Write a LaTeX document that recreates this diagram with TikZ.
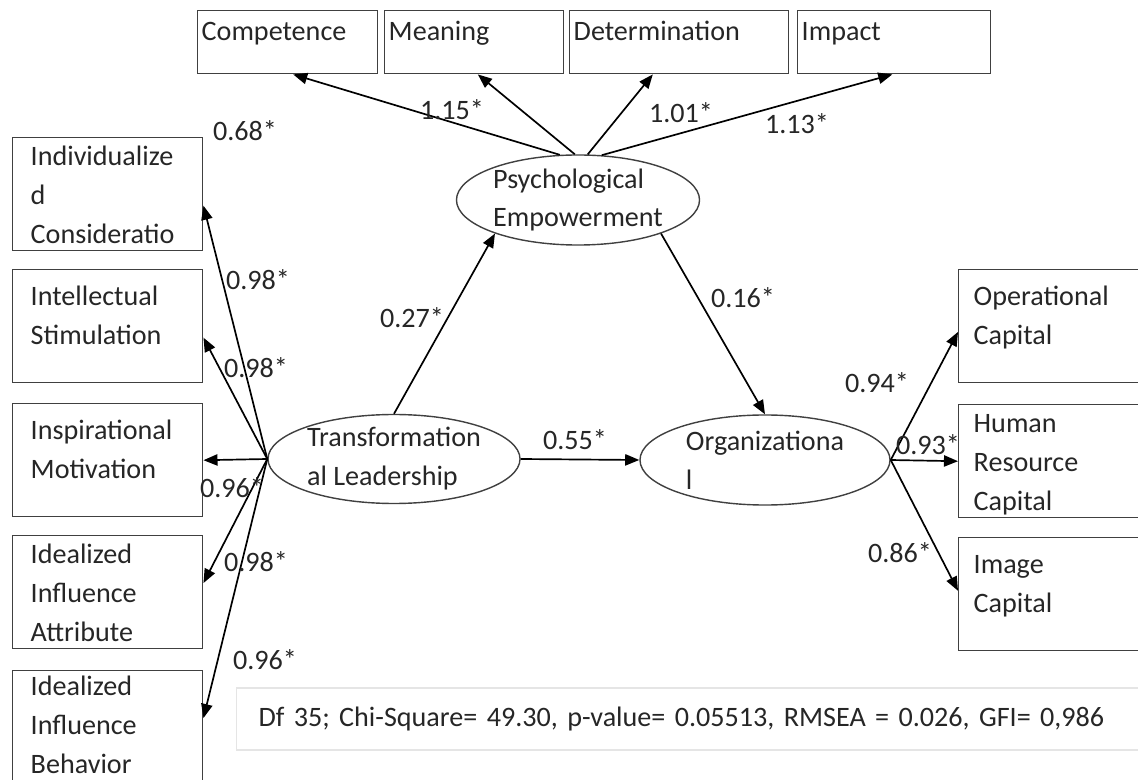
\documentclass[tikz,border=0pt]{standalone}
\usepackage{fontspec}
\setmainfont{Carlito}
\usetikzlibrary{arrows.meta,shapes.geometric,calc}
\frenchspacing

\tikzset{
  >={Triangle[length=10pt,width=8pt]},
  box/.style={draw=black!75, line width=1pt, rectangle, anchor=north west,
    align=left, inner ysep=0pt, text=black!85},
  topbox/.style={box, text height=0.75cm, text depth=0.825cm, inner xsep=0.1cm},
  threeline/.style={box, text height=0.7cm, text depth=2.125cm},
  twoline/.style={box, text height=0.9cm, text depth=1.925cm},
  leftbox/.style={inner xsep=0.45cm, text width=3.85cm},
  rightbox/.style={inner xsep=0.375cm, text width=4cm},
  latent/.style={draw=black!75, line width=1pt, ellipse, align=left, inner sep=0pt, text=black!85},
  coef/.style={inner sep=0pt, text=black!85},
  link/.style={->, black, line width=1.2pt},
}

\begin{document}
\begin{tikzpicture}[x=0.025cm, y=-0.025cm, font=\fontsize{20}{27.7}\selectfont]
\useasboundingbox (0,0) rectangle (1138,780);

% nodes
\node[topbox, text width=4.3cm] (comp) at (197,10) {Competence};
\node[topbox, text width=4.275cm] (mean) at (384,10) {Meaning};
\node[topbox, text width=5.275cm] (det) at (569,10) {Determination};
\node[topbox, text width=4.625cm] (imp) at (797,10) {Impact};

\node[threeline, leftbox] (ic) at (12,137) {Individualize\\d\\Consideratio};
\node[twoline, leftbox] (is) at (12,269) {Intellectual\\Stimulation};
\node[twoline, leftbox] (im) at (12,403) {Inspirational\\Motivation};
\node[threeline, leftbox] (iia) at (12,535) {Idealized\\Influence\\Attribute};
\node[threeline, leftbox, text height=0.62cm, text depth=2.205cm] (iib) at (12,670) {Idealized\\Influence\\Behavior};

\node[twoline, rightbox] (opc) at (958,269) {Operational\\Capital};
\node[threeline, rightbox] (hrc) at (958,404) {Human\\Resource\\Capital};
\node[twoline, rightbox] (imc) at (958,537) {Image\\Capital};

\node[latent, minimum width=6.075cm, minimum height=2.25cm] (pe) at (578,200) {Psychological\\Empowerment};
\node[latent, minimum width=6.3cm, minimum height=2.2cm] (tl) at (394,459) {Transformation\\al Leadership};
\node[latent, minimum width=6.25cm, minimum height=2.25cm] (org) at (765,460) {Organizationa\\l};

\node[draw=black!10, line width=0.8pt, anchor=west, text width=25cm, align=left,
  inner xsep=0.55cm, minimum height=1.55cm, text=black!85] (fit) at (236,719)
  {Df 35; Chi-Square= 49.30, p-value= 0.05513, RMSEA = 0.026, GFI= 0,986};

% arrows
\draw[link] (pe.112) -- ($(comp.south west)!0.53!(comp.south east)$);
\draw[link] (pe.94) -- ($(mean.south west)!0.52!(mean.south east)$);
\draw[link] (pe.78) -- ($(det.south west)!0.38!(det.south east)$);
\draw[link] (pe.62) -- ($(imp.south west)!0.49!(imp.south east)$);

\draw[link] (tl.west) -- ($(ic.north east)!0.6!(ic.south east)$);
\draw[link] (tl.west) -- ($(is.north east)!0.6!(is.south east)$);
\draw[link] (tl.west) -- (im.east);
\draw[link] (tl.west) -- ($(iia.north east)!0.42!(iia.south east)$);
\draw[link] (tl.west) -- ($(iib.north east)!0.42!(iib.south east)$);

\draw[link] (tl.north) -- (pe.202);
\draw[link] (pe.338) -- (org.north);
\draw[link] (tl.east) -- (org.west);

\draw[link] (org.east) -- ($(opc.north west)!0.55!(opc.south west)$);
\draw[link] (org.east) -- (hrc.west);
\draw[link] (org.east) -- ($(imc.north west)!0.47!(imc.south west)$);

% coefficients
\node[coef] (c1) at (245,131) {0.68*};
\node[coef] (c2) at (452,110) {1.15*};
\node[coef] (c3) at (681,113) {1.01*};
\node[coef] (c4) at (797,124) {1.13*};

\node[coef] (c5) at (258,280) {0.98*};
\node[coef] (c6) at (256,368) {0.98*};
\node[coef] (c7) at (232,488) {0.96*};
\node[coef] (c8) at (256,562) {0.98*};
\node[coef] (c9) at (265,660) {0.96*};

\node[coef] (c10) at (412,318) {0.27*};
\node[coef] (c11) at (743,298) {0.16*};
\node[coef] (c12) at (575,440) {0.55*};

\node[coef] (c13) at (877,383) {0.94*};
\node[coef] (c14) at (928,445) {0.93*};
\node[coef] (c15) at (900,553) {0.86*};

\end{tikzpicture}
\end{document}
